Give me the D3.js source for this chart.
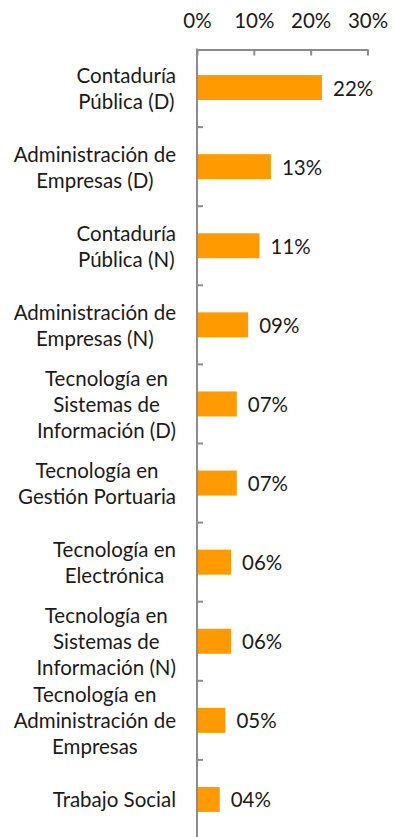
<!DOCTYPE html>
<html>
<head>
<meta charset="utf-8">
<script src="https://cdn.jsdelivr.net/npm/d3@7"></script>
<style>
  html, body { margin: 0; padding: 0; background: #fff; }
  svg { display: block; }
  text { font-family: Lato, "Open Sans", sans-serif; font-weight: 400; fill: #1a1a1a; }
</style>
</head>
<body>
<svg id="chart" width="396" height="837"></svg>
<script>
// Programas académicos (líneas de cada etiqueta) y su porcentaje
const programs = [
  ["Contaduría", "Pública (D)"],
  ["Administración de", "Empresas (D)"],
  ["Contaduría", "Pública (N)"],
  ["Administración de", "Empresas (N)"],
  ["Tecnología en", "Sistemas de", "Información (D)"],
  ["Tecnología en", "Gestión Portuaria"],
  ["Tecnología en", "Electrónica"],
  ["Tecnología en", "Sistemas de", "Información (N)"],
  ["Tecnología en", "Administración de", "Empresas"],
  ["Trabajo Social"]
];
const shares = [22, 13, 11, 9, 7, 7, 6, 6, 5, 4];
const xTicks = [0, 10, 20, 30];

const svg = d3.select("#chart");
const plotLeft = 197, plotRight = 367.5, axisY = 49.5;
const bandTop = 48, bandBottom = 839;
const fontSize = 20.5;
const axisColor = "#8c8c8c";

const x = d3.scaleLinear().domain([0, 30]).range([plotLeft, plotRight]);
const y = d3.scaleBand()
  .domain(d3.range(programs.length))
  .range([bandTop, bandBottom])
  .paddingInner(0.684)
  .paddingOuter(0.342);

// Barras
svg.append("g").selectAll("rect")
  .data(shares)
  .join("rect")
  .attr("x", x(0))
  .attr("y", (d, i) => y(i))
  .attr("width", d => x(d) - x(0))
  .attr("height", y.bandwidth())
  .attr("fill", "#FF9A00");

// Eje superior de porcentajes
const xAxis = svg.append("g")
  .attr("transform", `translate(0,${axisY})`)
  .call(d3.axisTop(x).tickValues(xTicks).tickFormat(d => d + "%")
    .tickSizeInner(-6).tickSizeOuter(0).tickPadding(22));
xAxis.attr("font-family", null).attr("font-size", null);
xAxis.select(".domain").attr("stroke", axisColor).attr("stroke-width", 2);
xAxis.selectAll(".tick line").attr("stroke", axisColor).attr("stroke-width", 2);
xAxis.selectAll(".tick text")
  .attr("font-size", fontSize)
  .attr("fill", "#1a1a1a");

// Eje vertical con marcas entre categorías
const step = y.step();
const boundaries = d3.range(1, programs.length).map(i => bandTop + i * step);
const yAxis = svg.append("g");
yAxis.append("line")
  .attr("x1", plotLeft).attr("x2", plotLeft)
  .attr("y1", axisY - 1).attr("y2", bandBottom)
  .attr("stroke", axisColor).attr("stroke-width", 2);
yAxis.selectAll("line.tick")
  .data(boundaries)
  .join("line")
  .attr("class", "tick")
  .attr("x1", plotLeft).attr("x2", plotLeft + 6)
  .attr("y1", d => d).attr("y2", d => d)
  .attr("stroke", axisColor).attr("stroke-width", 2);

// Etiquetas de categoría: bloque alineado al eje, líneas centradas
const lineH = 26;
const labels = svg.append("g").selectAll("text")
  .data(programs)
  .join("text")
  .attr("font-size", fontSize)
  .attr("text-anchor", "middle")
  .attr("dominant-baseline", "central");
labels.each(function(lines, i) {
  const t = d3.select(this);
  const cy = y(i) + y.bandwidth() / 2;
  lines.forEach((ln, j) => {
    t.append("tspan")
      .attr("y", cy + (j - (lines.length - 1) / 2) * lineH)
      .text(ln);
  });
  let w = 0;
  t.selectAll("tspan").each(function() { w = Math.max(w, this.getComputedTextLength()); });
  t.selectAll("tspan").attr("x", plotLeft - 21 - w / 2);
});

// Etiquetas de valor
svg.append("g").selectAll("text")
  .data(shares)
  .join("text")
  .attr("x", d => x(d) + 11)
  .attr("y", (d, i) => y(i) + y.bandwidth() / 2)
  .attr("dominant-baseline", "central")
  .attr("font-size", fontSize)
  .text(d => String(d).padStart(2, "0") + "%");
</script>
</body>
</html>
